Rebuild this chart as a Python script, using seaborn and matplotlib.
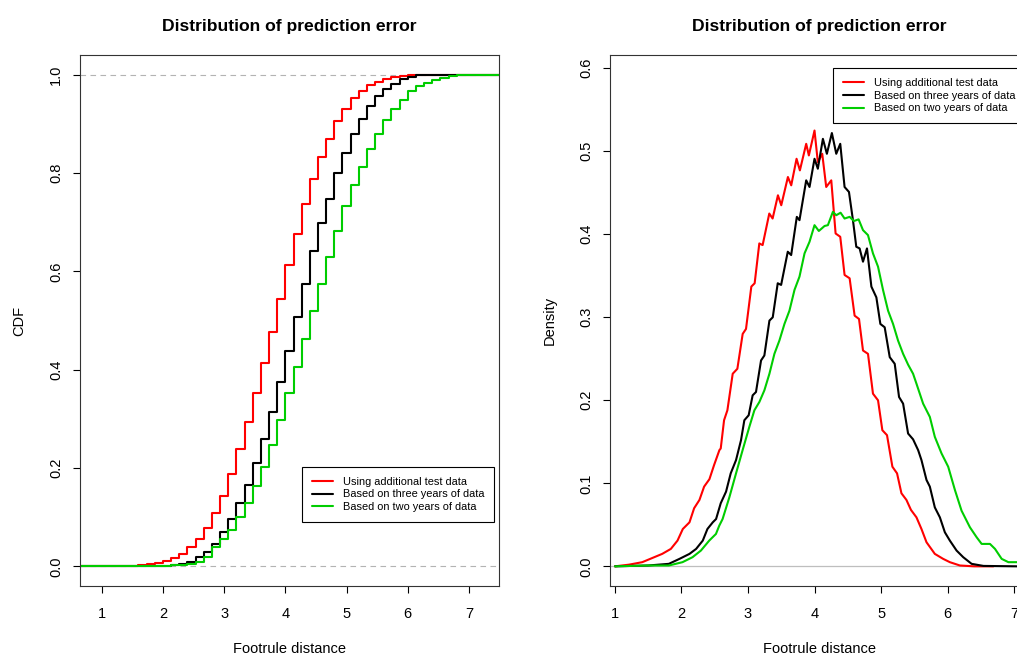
import numpy as np
import pandas as pd
import seaborn as sns
import matplotlib.pyplot as plt
from matplotlib.lines import Line2D

# ---- data ----
series = ['Using additional test data', 'Based on three years of data', 'Based on two years of data']
colors = ['#FF0000', '#000000', '#00CD00']

# jump points of the empirical CDFs (footrule distance)
steps = [1.6, 1.733, 1.867, 2.0, 2.133, 2.267, 2.4, 2.533, 2.667, 2.8, 2.933,
         3.067, 3.2, 3.333, 3.467, 3.6, 3.733, 3.867, 4.0, 4.133, 4.267, 4.4,
         4.533, 4.667, 4.8, 4.933, 5.067, 5.2, 5.333, 5.467, 5.6, 5.733, 5.867,
         6.0, 6.133, 6.267, 6.4, 6.533, 6.667, 6.8, 6.933]
cdf_additional = [0.002, 0.004, 0.006, 0.011, 0.017, 0.026, 0.039, 0.056, 0.078, 0.108, 0.144,
                  0.188, 0.239, 0.294, 0.352, 0.413, 0.476, 0.543, 0.613, 0.676, 0.737, 0.788,
                  0.833, 0.870, 0.905, 0.930, 0.952, 0.967, 0.978, 0.986, 0.992, 0.995, 0.998,
                  0.999, 1.0, 1.0, 1.0, 1.0, 1.0, 1.0, 1.0]
cdf_three = [0.0, 0.0, 0.001, 0.001, 0.002, 0.004, 0.009, 0.019, 0.030, 0.046, 0.069,
             0.096, 0.128, 0.166, 0.210, 0.260, 0.314, 0.374, 0.438, 0.507, 0.574, 0.641,
             0.699, 0.748, 0.799, 0.841, 0.879, 0.910, 0.936, 0.956, 0.971, 0.982, 0.991,
             0.996, 0.999, 1.0, 1.0, 1.0, 1.0, 1.0, 1.0]
cdf_two = [0.0, 0.0, 0.001, 0.001, 0.002, 0.003, 0.004, 0.008, 0.019, 0.039, 0.055,
           0.074, 0.101, 0.128, 0.163, 0.203, 0.247, 0.297, 0.352, 0.406, 0.463, 0.519,
           0.574, 0.629, 0.683, 0.732, 0.775, 0.813, 0.848, 0.880, 0.907, 0.931, 0.949,
           0.966, 0.977, 0.984, 0.990, 0.994, 0.997, 0.999, 1.0]

# density curves
dens_add_x = [1.0, 1.21, 1.41, 1.56, 1.71, 1.84, 1.94, 2.02, 2.12, 2.19, 2.27, 2.34, 2.42,
              2.49, 2.57, 2.59, 2.64, 2.69, 2.77, 2.84, 2.92, 2.97, 3.05, 3.10, 3.17, 3.22,
              3.32, 3.37, 3.45, 3.50, 3.60, 3.65, 3.73, 3.78, 3.875, 3.915, 4.0, 4.05,
              4.116, 4.176, 4.252, 4.317, 4.387, 4.452, 4.528, 4.603, 4.669, 4.729, 4.804,
              4.879, 4.955, 5.02, 5.09, 5.171, 5.241, 5.307, 5.382, 5.45, 5.533, 5.608,
              5.684, 5.809, 5.934, 6.035, 6.186, 6.4, 6.69]
dens_add_y = [0.0, 0.002, 0.005, 0.010, 0.015, 0.021, 0.031, 0.045, 0.053, 0.070, 0.080, 0.096, 0.105,
              0.122, 0.140, 0.142, 0.176, 0.188, 0.232, 0.238, 0.280, 0.286, 0.337, 0.341, 0.389, 0.387,
              0.425, 0.419, 0.447, 0.435, 0.469, 0.459, 0.491, 0.477, 0.509, 0.495, 0.525, 0.487,
              0.497, 0.457, 0.465, 0.401, 0.397, 0.351, 0.347, 0.302, 0.298, 0.260, 0.256,
              0.208, 0.200, 0.164, 0.158, 0.120, 0.112, 0.088, 0.080, 0.068, 0.059, 0.045,
              0.029, 0.015, 0.009, 0.005, 0.001, 0.0, 0.0]

dens_three_x = [1.0, 1.5, 1.81, 1.97, 2.12, 2.22, 2.32, 2.39, 2.47, 2.52, 2.59, 2.67, 2.74,
                2.82, 2.895, 2.945, 3.01, 3.07, 3.12, 3.196, 3.246, 3.322, 3.372, 3.447, 3.498,
                3.598, 3.649, 3.734, 3.774, 3.875, 3.925, 4.0, 4.05, 4.126, 4.186, 4.261, 4.327,
                4.387, 4.452, 4.518, 4.578, 4.628, 4.678, 4.729, 4.789, 4.855, 4.93, 4.99, 5.055,
                5.131, 5.206, 5.271, 5.332, 5.407, 5.482, 5.558, 5.608, 5.684, 5.734, 5.809,
                5.885, 5.96, 6.035, 6.136, 6.236, 6.362, 6.54, 7.04, 7.3]
dens_three_y = [0.0, 0.001, 0.003, 0.009, 0.015, 0.021, 0.031, 0.045, 0.053, 0.057, 0.076, 0.090, 0.112,
                0.128, 0.152, 0.176, 0.182, 0.206, 0.210, 0.248, 0.254, 0.296, 0.300, 0.341, 0.339,
                0.379, 0.375, 0.421, 0.417, 0.465, 0.457, 0.491, 0.479, 0.515, 0.497, 0.522, 0.497,
                0.509, 0.457, 0.451, 0.417, 0.385, 0.383, 0.367, 0.383, 0.337, 0.324, 0.292, 0.288,
                0.252, 0.244, 0.204, 0.196, 0.160, 0.153, 0.140, 0.128, 0.104, 0.096, 0.071,
                0.059, 0.041, 0.031, 0.019, 0.011, 0.003, 0.0005, 0.0, 0.0]

dens_two_x = [1.0, 1.5, 1.81, 2.015, 2.166, 2.292, 2.417, 2.518, 2.568, 2.618, 2.719, 2.82,
              2.919, 3.02, 3.096, 3.171, 3.246, 3.322, 3.397, 3.472, 3.548, 3.623, 3.699,
              3.774, 3.85, 3.925, 4.0, 4.065, 4.151, 4.201, 4.276, 4.327, 4.392, 4.452, 4.528,
              4.593, 4.663, 4.729, 4.804, 4.879, 4.955, 5.03, 5.106, 5.181, 5.256, 5.332,
              5.407, 5.482, 5.533, 5.633, 5.734, 5.809, 5.91, 6.01, 6.111, 6.211, 6.337,
              6.438, 6.513, 6.638, 6.714, 6.814, 6.915, 7.04, 7.3]
dens_two_y = [0.0, 0.001, 0.001, 0.005, 0.011, 0.019, 0.031, 0.039, 0.049, 0.057, 0.083, 0.112,
              0.140, 0.168, 0.188, 0.198, 0.212, 0.232, 0.256, 0.272, 0.292, 0.308, 0.333,
              0.349, 0.377, 0.391, 0.411, 0.404, 0.410, 0.411, 0.427, 0.423, 0.426, 0.419, 0.421,
              0.416, 0.418, 0.405, 0.399, 0.377, 0.361, 0.333, 0.308, 0.292, 0.272, 0.256,
              0.243, 0.232, 0.220, 0.196, 0.180, 0.156, 0.136, 0.120, 0.092, 0.067, 0.047,
              0.035, 0.027, 0.027, 0.021, 0.009, 0.005, 0.005, 0.005]

# ---- build long tables ----
cdf_rows = []
for name, levels in zip(series, [cdf_additional, cdf_three, cdf_two]):
    xs = [0.5] + steps + [7.7]
    ys = [0.0] + levels + [1.0]
    cdf_rows.append(pd.DataFrame({'x': xs, 'F': ys, 'series': name}))
cdf_df = pd.concat(cdf_rows, ignore_index=True)

dens_rows = []
for name, xs, ys in zip(series, [dens_add_x, dens_three_x, dens_two_x],
                        [dens_add_y, dens_three_y, dens_two_y]):
    dens_rows.append(pd.DataFrame({'x': xs, 'd': ys, 'series': name}))
dens_df = pd.concat(dens_rows, ignore_index=True)

palette = dict(zip(series, colors))

sns.set_theme(style='white')
plt.rcParams['font.family'] = ['Liberation Sans', 'DejaVu Sans']
plt.rcParams['text.color'] = 'black'
plt.rcParams['axes.labelcolor'] = 'black'

fig = plt.figure(figsize=(10.17, 6.56), dpi=100)
ax1 = fig.add_axes([80 / 1017, 70 / 656, 419 / 1017, 531 / 656])
ax2 = fig.add_axes([610 / 1017, 70 / 656, 419 / 1017, 531 / 656])

# left: ECDF
for y0 in [0, 1]:
    ax1.axhline(y0, color='#B3B3B3', lw=0.8, ls=(0, (5, 4)), zorder=1)
sns.lineplot(data=cdf_df, x='x', y='F', hue='series', palette=palette, estimator=None,
             drawstyle='steps-post', lw=1.5, legend=False, ax=ax1, zorder=2)
ax1.set_xlim(0.645, 7.49)
ax1.set_ylim(-0.04, 1.04)
ax1.set_yticks([0, 0.2, 0.4, 0.6, 0.8, 1.0])
ax1.set_yticklabels(['0.0', '0.2', '0.4', '0.6', '0.8', '1.0'], rotation=90, va='center')
ax1.set_ylabel('CDF')

# right: density
ax2.axhline(0, color='#BEBEBE', lw=0.9, zorder=1)
sns.lineplot(data=dens_df, x='x', y='d', hue='series', palette=palette, estimator=None,
             sort=False, lw=1.5, legend=False, ax=ax2, zorder=2)
ax2.set_xlim(0.925, 7.225)
ax2.set_ylim(-0.0237, 0.616)
ax2.set_yticks([0, 0.1, 0.2, 0.3, 0.4, 0.5, 0.6])
ax2.set_yticklabels(['0.0', '0.1', '0.2', '0.3', '0.4', '0.5', '0.6'], rotation=90, va='center')
ax2.set_ylabel('Density')

handles = [Line2D([], [], color=c, lw=1.5) for c in colors]
for ax in [ax1, ax2]:
    ax.set_xticks([1, 2, 3, 4, 5, 6, 7])
    ax.set_xticklabels(['1', '2', '3', '4', '5', '6', '7'])
    ax.set_xlabel('Footrule distance', fontsize=10.5)
    ax.yaxis.label.set_fontsize(10.5)
    ax.xaxis.set_label_coords(0.5, -0.105)
    ax.yaxis.set_label_coords(-0.128, 0.5)
    ax.set_title('Distribution of prediction error', fontsize=12.6, fontweight='bold',
                 pad=17.5, color='black')
    ax.tick_params(axis='both', which='major', bottom=True, left=True, direction='out',
                   length=5, width=0.8, color='black', labelsize=10.5, labelcolor='black')
    ax.tick_params(axis='x', pad=10)
    ax.tick_params(axis='y', pad=7)
    for s in ax.spines.values():
        s.set_color('#333333')
        s.set_linewidth(0.8)

leg_kw = dict(fontsize=7.9, frameon=True, fancybox=False, framealpha=1, edgecolor='black',
              handlelength=1.9, handletextpad=0.9, borderpad=0.9, labelspacing=0.25,
              borderaxespad=0)
leg1 = ax1.legend(handles, series, loc='lower right',
                  bbox_to_anchor=((494 - 80) / 419, (586 - 522) / 531), **leg_kw)
leg2 = ax2.legend(handles, series, loc='upper right',
                  bbox_to_anchor=((1025 - 610) / 419, (586 - 68) / 531), **leg_kw)
for leg in [leg1, leg2]:
    leg.get_frame().set_linewidth(0.8)
    for t in leg.get_texts():
        t.set_color('black')

fig.savefig('out.png', dpi=100)
